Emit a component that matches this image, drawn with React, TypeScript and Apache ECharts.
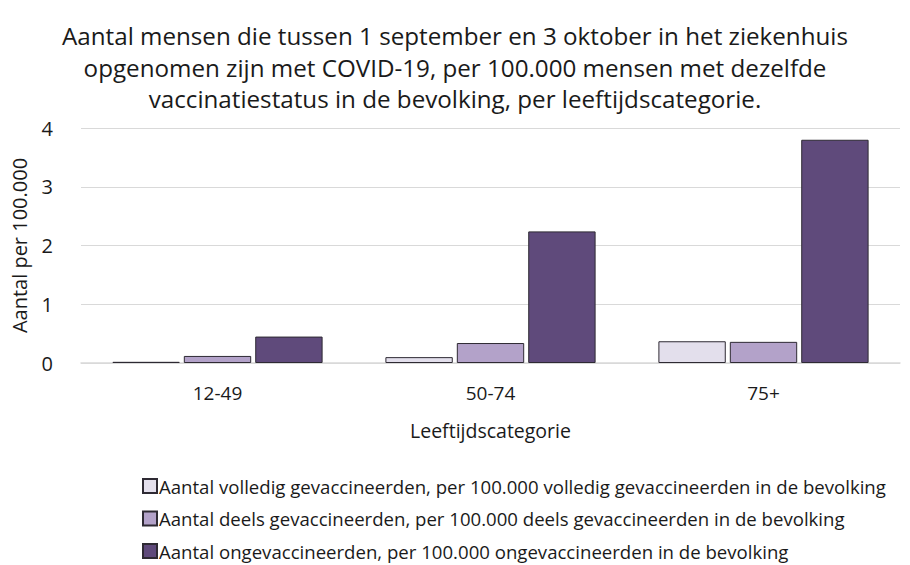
import React, { useEffect, useRef } from "react";
import * as echarts from "echarts";

const categories = ["12-49", "50-74", "75+"];
const volledig = [0.02, 0.1, 0.37];
const deels = [0.12, 0.34, 0.36];
const ongevaccineerd = [0.45, 2.24, 3.8];
const seriesNames = [
  "Aantal volledig gevaccineerden, per 100.000 volledig gevaccineerden in de bevolking",
  "Aantal deels gevaccineerden, per 100.000 deels gevaccineerden in de bevolking",
  "Aantal ongevaccineerden, per 100.000 ongevaccineerden in de bevolking",
];
const colors = ["#e3dfec", "#b3a2c9", "#5f4a7b"];
const titleText =
  "Aantal mensen die tussen 1 september en 3 oktober in het ziekenhuis\nopgenomen zijn met COVID-19, per 100.000 mensen met dezelfde\nvaccinatiestatus in de bevolking, per leeftijdscategorie.";

const FONT = "Open Sans";

export default function App() {
  const ref = useRef<HTMLDivElement>(null);
  useEffect(() => {
    if (!ref.current) return;
    const chart = echarts.init(ref.current, null, { renderer: "svg" });
    const data = [volledig, deels, ongevaccineerd];
    chart.setOption({
      animation: false,
      textStyle: { fontFamily: FONT },
      title: {
        text: titleText,
        left: "center",
        top: 20,
        padding: 0,
        textStyle: {
          fontFamily: FONT,
          fontSize: 24.2,
          fontWeight: "normal",
          color: "#1a1a1a",
          lineHeight: 31.5,
        },
      },
      legend: {
        orient: "vertical",
        left: 142,
        top: 476,
        padding: 0,
        itemGap: 12.5,
        itemWidth: 14,
        itemHeight: 14,
        icon: "rect",
        textStyle: { fontFamily: FONT, fontSize: 18.6, lineHeight: 20, color: "#1a1a1a", padding: [0, 0, 0, -3] },
        data: seriesNames,
      },
      grid: { left: 81, right: 10, top: 128, bottom: 202, containLabel: false },
      xAxis: {
        type: "category",
        data: categories,
        axisTick: { show: false },
        axisLine: { lineStyle: { color: "#d9d9d9", width: 1.5 } },
        axisLabel: { fontFamily: FONT, fontSize: 19, color: "#1a1a1a", margin: 20 },
        name: "Leeftijdscategorie",
        nameLocation: "middle",
        nameGap: 57,
        nameTextStyle: { fontFamily: FONT, fontSize: 19.5, color: "#1a1a1a" },
      },
      yAxis: {
        type: "value",
        min: 0,
        max: 4,
        interval: 1,
        axisLine: { show: false },
        axisTick: { show: false },
        splitLine: { lineStyle: { color: "#d9d9d9", width: 1.2 } },
        axisLabel: { fontFamily: FONT, fontSize: 20, color: "#1a1a1a", margin: 28 },
        name: "Aantal per 100.000",
        nameLocation: "middle",
        nameGap: 52,
        nameTextStyle: { fontFamily: FONT, fontSize: 20, color: "#1a1a1a" },
      },
      series: seriesNames.map((name, i) => ({
        name,
        type: "bar",
        data: data[i],
        barGap: "6%",
        barCategoryGap: "23%",
        itemStyle: { color: colors[i], borderColor: "#2e2a33", borderWidth: 1 },
      })),
    });
    return () => chart.dispose();
  }, []);
  return (
    <div
      ref={ref}
      style={{ position: "absolute", left: 0, top: 0, width: 910, height: 565, background: "#fff" }}
    />
  );
}
